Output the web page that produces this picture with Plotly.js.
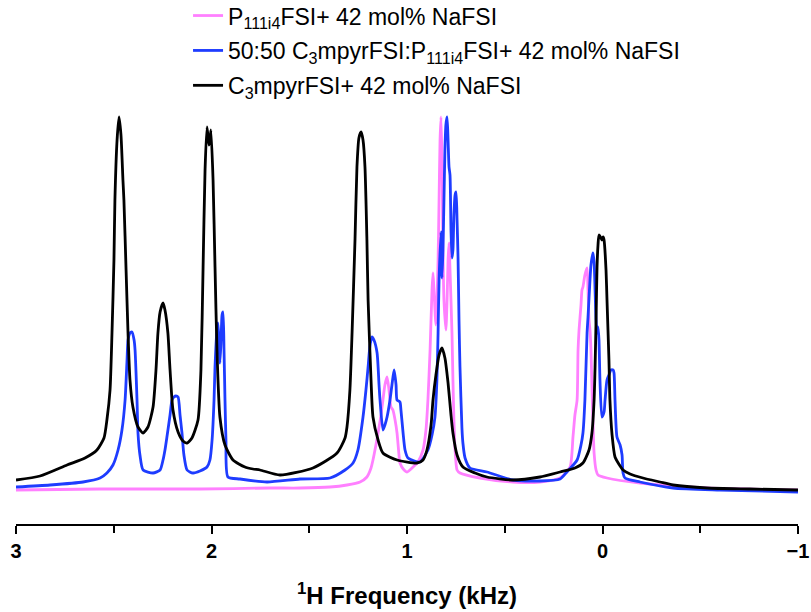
<!DOCTYPE html>
<html>
<head>
<meta charset="utf-8">
<script src="https://cdn.plot.ly/plotly-3.0.1.min.js"></script>
<style>html,body{margin:0;padding:0;background:#fff;}#chart{width:811px;height:612px;}</style>
</head>
<body>
<div id="chart"></div>
<script>
// 1H frequency (kHz) and intensity (a.u.)
const seriesNames = [
  "P<sub>111i4</sub>FSI+ 42 mol% NaFSI",
  "50:50 C<sub>3</sub>mpyrFSI:P<sub>111i4</sub>FSI+ 42 mol% NaFSI",
  "C<sub>3</sub>mpyrFSI+ 42 mol% NaFSI"
];

const pinkFreq = [3.000,2.570,2.059,1.701,1.547,1.394,1.307,1.240,1.205,1.184,1.174,1.159,1.148,1.133,1.123,1.113,1.102,1.092,1.082,1.072,1.061,1.051,1.041,1.036,1.015,1.000,0.969,0.944,0.918,0.903,0.893,0.882,0.872,0.867,0.862,0.852,0.841,0.836,0.831,0.826,0.821,0.816,0.811,0.801,0.795,0.790,0.785,0.780,0.770,0.765,0.760,0.754,0.744,0.729,0.627,0.458,0.320,0.217,0.166,0.151,0.141,0.130,0.125,0.120,0.110,0.105,0.100,0.090,0.079,0.074,0.069,0.064,0.059,0.054,0.049,0.043,0.033,0.023,-0.023,-0.192,-0.535,-1.000];
const pinkInt  = [0,1,1,2,2,3,5,8,13,22,30,45,57,75,90,105,113,100,83,80,70,57,35,27,20,18,23,28,40,60,90,140,200,217,200,165,230,290,350,373,330,240,190,160,190,230,247,220,157,110,70,40,20,17,12,8,8,12,23,53,75,90,140,160,185,200,203,215,222,200,170,160,140,103,70,37,20,15,12,7,2,0];

const blueFreq = [3.000,2.826,2.657,2.570,2.535,2.504,2.478,2.458,2.442,2.432,2.427,2.417,2.407,2.396,2.391,2.381,2.376,2.366,2.350,2.299,2.263,2.248,2.238,2.228,2.212,2.202,2.192,2.182,2.171,2.161,2.151,2.141,2.125,2.095,2.059,2.023,2.008,1.997,1.987,1.982,1.972,1.967,1.962,1.957,1.951,1.946,1.941,1.936,1.931,1.926,1.916,1.854,1.716,1.547,1.394,1.317,1.276,1.251,1.225,1.210,1.199,1.189,1.179,1.169,1.153,1.143,1.138,1.123,1.113,1.102,1.087,1.077,1.066,1.056,1.051,1.036,1.031,1.020,1.010,0.995,0.934,0.893,0.872,0.857,0.847,0.841,0.836,0.826,0.821,0.816,0.811,0.806,0.801,0.795,0.790,0.785,0.780,0.775,0.770,0.765,0.760,0.754,0.749,0.744,0.739,0.734,0.729,0.719,0.714,0.703,0.678,0.591,0.458,0.320,0.217,0.182,0.130,0.110,0.100,0.090,0.079,0.074,0.064,0.059,0.049,0.043,0.038,0.033,0.028,0.023,0.018,0.013,0.003,-0.008,-0.013,-0.023,-0.033,-0.043,-0.054,-0.059,-0.064,-0.074,-0.090,-0.100,-0.105,-0.115,-0.192,-0.361,-0.601,-1.000];
const blueInt  = [3,5,8,12,17,25,40,60,90,130,150,157,158,150,140,90,57,35,20,17,20,30,40,53,75,90,93,94,93,75,57,35,20,17,19,23,30,50,90,123,160,167,150,127,150,175,178,140,90,50,13,11,8,11,12,20,27,40,73,100,123,145,153,150,137,105,90,60,65,73,90,105,120,105,90,88,80,57,40,32,28,40,55,73,110,157,210,258,212,240,290,340,365,373,350,323,315,260,232,240,275,295,298,270,233,170,123,62,47,32,22,18,10,9,11,18,30,45,57,90,157,173,210,225,237,228,200,170,157,163,150,110,73,78,90,110,115,120,120,117,90,53,45,35,17,12,8,2,0,-2];

const blackFreq = [3.000,2.877,2.739,2.647,2.586,2.550,2.535,2.519,2.509,2.499,2.494,2.483,2.473,2.463,2.453,2.448,2.437,2.427,2.417,2.402,2.376,2.350,2.325,2.299,2.284,2.274,2.263,2.248,2.238,2.223,2.212,2.197,2.171,2.146,2.125,2.100,2.069,2.054,2.043,2.033,2.023,2.013,2.008,2.003,1.992,1.982,1.972,1.957,1.931,1.890,1.829,1.788,1.752,1.650,1.481,1.358,1.317,1.307,1.292,1.281,1.266,1.256,1.246,1.235,1.225,1.215,1.205,1.199,1.184,1.174,1.148,1.123,1.051,0.949,0.918,0.898,0.877,0.867,0.852,0.836,0.821,0.806,0.790,0.775,0.765,0.744,0.714,0.652,0.591,0.458,0.320,0.217,0.141,0.100,0.069,0.054,0.043,0.038,0.033,0.028,0.023,0.018,0.008,0.003,-0.003,-0.008,-0.018,-0.023,-0.033,-0.038,-0.049,-0.064,-0.090,-0.105,-0.141,-0.207,-0.294,-0.361,-0.535,-0.754,-1.000];
const blackInt  = [10,14,25,32,40,52,70,100,157,230,290,350,373,355,310,290,220,157,110,83,63,57,63,83,120,157,178,187,180,157,120,80,58,49,47,52,70,120,223,320,363,345,350,360,310,223,140,73,45,30,23,21,20,15,22,37,52,63,100,157,250,323,352,358,350,323,250,190,110,73,50,37,30,27,30,40,65,90,115,135,142,132,107,75,57,35,23,17,13,10,13,18,22,27,40,57,90,123,170,223,245,255,252,250,253,250,220,190,130,90,55,33,24,20,16,12,8,5,2,1,0];

const colors = ["#FF80FF", "#1E3CFF", "#000000"];
const freqs = [pinkFreq, blueFreq, blackFreq];
const ints = [pinkInt, blueInt, blackInt];

const traces = seriesNames.map((name, i) => ({
  x: freqs[i], y: ints[i], type: "scatter", mode: "lines", name: name,
  legendgroup: "g" + i,
  line: {color: colors[i], width: 2.8, shape: "spline", smoothing: 0.6}
}));

const fam = "Arial, 'Liberation Sans', sans-serif";
const layout = {
  width: 811, height: 612,
  margin: {l: 16, r: 13, t: 110, b: 88, autoexpand: false},
  paper_bgcolor: "#fff", plot_bgcolor: "#fff",
  font: {family: fam, color: "#000"},
  showlegend: true,
  legend: {
    x: 0.22, y: 1.28, xanchor: "left", yanchor: "top",
    bgcolor: "rgba(0,0,0,0)", borderwidth: 0,
    font: {size: 23, family: fam, color: "#000"},
    traceorder: "grouped", tracegroupgap: 2
  },
  xaxis: {
    range: [3, -1], autorange: false,
    showline: true, linecolor: "#000", linewidth: 2,
    showgrid: false, zeroline: false,
    ticks: "outside", ticklen: 8, tickwidth: 2, tickcolor: "#000",
    tickmode: "linear", tick0: 0, dtick: 1,
    minor: {ticks: "outside", ticklen: 7, tickwidth: 2, tickcolor: "#000", dtick: 0.5, showgrid: false},
    tickfont: {size: 20, family: fam, weight: "bold", color: "#000"},
    title: {text: "<b><sup>1</sup>H Frequency (kHz)</b>", font: {size: 24, family: fam, color: "#000"}, standoff: 26}
  },
  yaxis: {visible: false, range: [-34, 380], autorange: false, showgrid: false, zeroline: false}
};

Plotly.newPlot("chart", traces, layout, {displayModeBar: false, staticPlot: true});
</script>
</body>
</html>
